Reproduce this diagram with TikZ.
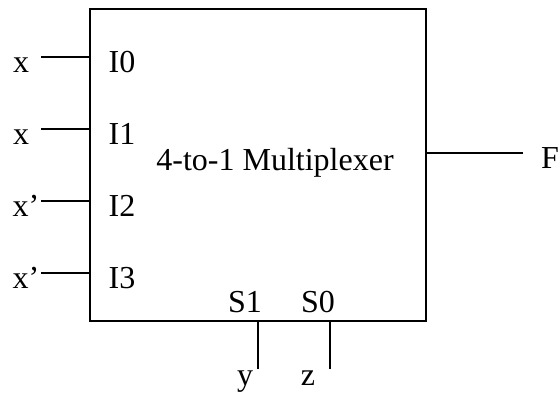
\documentclass[tikz,border=0pt]{standalone}
\usepackage{fontspec}
\setmainfont{Liberation Serif}
\usepackage{xcolor}
\usepackage{tikz}
\usetikzlibrary{positioning,calc}
\tikzset{lbl/.style={inner sep=0pt,anchor=base,font=\fontsize{32}{36}\selectfont},wire/.style={line width=1.3pt}}
\begin{document}
\begin{tikzpicture}[x=1pt,y=-1pt]
\useasboundingbox (0,0) rectangle (560,394);
\node[draw,line width=1.6pt,minimum width=336pt,minimum height=312pt,inner sep=0pt] (mux) at (258,165) {};
\node[lbl] (muxname) at (275,170) {4-to-1 Multiplexer};

\node[lbl] (i0) at (122,72) {I0};
\node[lbl] (i1) at (122,144) {I1};
\node[lbl] (i2) at (122,216) {I2};
\node[lbl] (i3) at (122,288) {I3};
\node[lbl] (s1) at (245,312) {S1};
\node[lbl] (s0) at (318,312) {S0};

\node[lbl] (x0) at (21,72) {x};
\node[lbl] (x1) at (21,144) {x};
\node[lbl] (x2) at (26,216) {x’};
\node[lbl] (x3) at (26,288) {x’};
\node[lbl] (f) at (550,168) {F};
\node[lbl] (y) at (245,385) {y};
\node[lbl] (z) at (308,385) {z};

\coordinate (w0) at (41,57);
\coordinate (w1) at (41,129);
\coordinate (w2) at (41,201);
\coordinate (w3) at (41,273);
\coordinate (wf) at (523,153);
\coordinate (wy) at (258,369);
\coordinate (wz) at (330,369);

\draw[wire] (w0) -- (w0 -| mux.west);
\draw[wire] (w1) -- (w1 -| mux.west);
\draw[wire] (w2) -- (w2 -| mux.west);
\draw[wire] (w3) -- (w3 -| mux.west);
\draw[wire] (wf) -- (wf -| mux.east);
\draw[wire] (wy) -- (wy |- mux.south);
\draw[wire] (wz) -- (wz |- mux.south);
\end{tikzpicture}
\end{document}
